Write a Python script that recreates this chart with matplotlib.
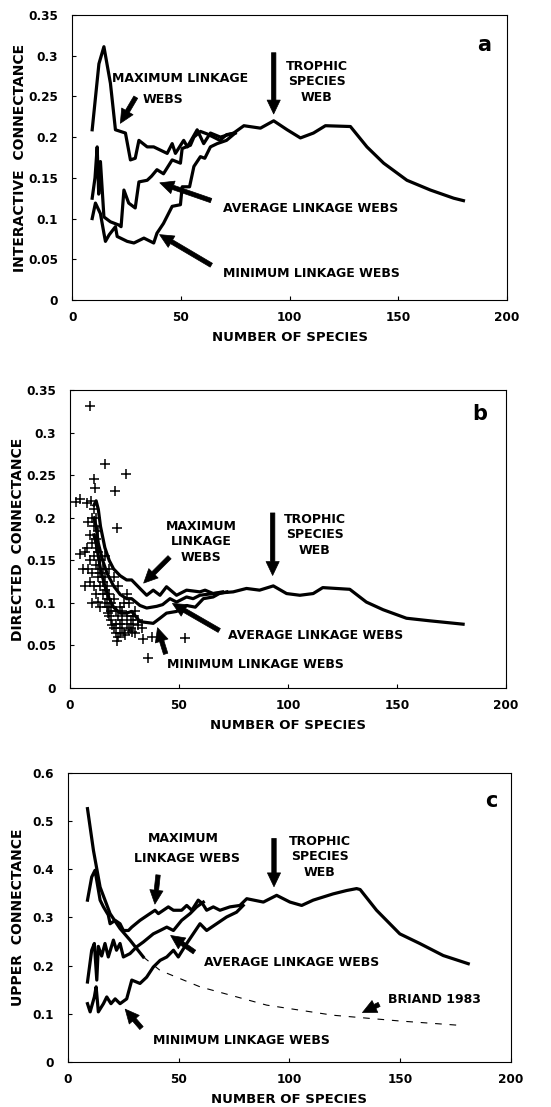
import matplotlib
matplotlib.use('Agg')
import matplotlib.pyplot as plt
from matplotlib.ticker import FuncFormatter

plt.rcParams['font.family'] = ['DejaVu Sans']
plt.rcParams['font.weight'] = 'bold'

# ---- panel a: interactive connectance ----
a_max_x = [9.2, 12.3, 14.6, 17.6, 19.9, 24.5, 26.8, 29, 30.7, 34.5, 37.5, 43.7, 46, 47.5, 51.3, 53,
           57.5, 60.5, 63.6, 68.2, 74.3, 79, 86.6, 92.7, 98.9, 105, 111, 116.5, 128, 135.6, 143.3,
           154, 164.8, 175.5, 180]
a_max_y = [0.209, 0.29, 0.311, 0.266, 0.209, 0.205, 0.172, 0.174, 0.196, 0.188, 0.188, 0.18, 0.192,
           0.18, 0.196, 0.188, 0.209, 0.192, 0.205, 0.2, 0.205, 0.214, 0.211, 0.22, 0.209, 0.199,
           0.205, 0.214, 0.213, 0.188, 0.168, 0.147, 0.135, 0.125, 0.122]
a_avg_x = [9.2, 10.5, 11.5, 12.2, 13, 14.6, 17.6, 21.5, 22.5, 23.8, 26, 29, 30.7, 34.5, 36.5, 39, 42,
           46, 49.8, 50.6, 54.4, 56, 59, 62, 65, 68, 71, 75]
a_avg_y = [0.125, 0.15, 0.188, 0.13, 0.17, 0.102, 0.096, 0.092, 0.09, 0.135, 0.119, 0.113, 0.145,
           0.147, 0.152, 0.16, 0.155, 0.172, 0.168, 0.186, 0.19, 0.2, 0.207, 0.204, 0.2, 0.196, 0.203,
           0.205]
a_min_x = [9.2, 10.7, 13, 14.6, 15.3, 17, 19.9, 20.7, 25.3, 28.4, 33, 37.5, 39, 42, 46, 49.8, 50.6,
           54, 56, 59, 61, 63.6, 66.7, 71, 75]
a_min_y = [0.1, 0.119, 0.106, 0.082, 0.072, 0.08, 0.09, 0.078, 0.072, 0.07, 0.076, 0.07, 0.082,
           0.094, 0.115, 0.117, 0.139, 0.139, 0.164, 0.176, 0.174, 0.188, 0.192, 0.196, 0.205]

# ---- panel b: directed connectance ----
b_max_x = [11, 12, 13, 14, 16, 18, 20, 23, 26, 28.3, 32.1, 35.2, 38.2, 41.3, 44.3, 48.9, 53.5,
           59.6, 62, 65.7, 74.9, 81, 87, 93.3, 99.4, 105.5, 111.6, 116, 128.4, 136, 143.7, 154.4,
           165, 180.4]
b_max_y = [0.215, 0.22, 0.21, 0.19, 0.165, 0.15, 0.14, 0.132, 0.127, 0.127, 0.117, 0.109, 0.115,
           0.109, 0.119, 0.109, 0.115, 0.113, 0.115, 0.111, 0.113, 0.117, 0.115, 0.12, 0.111, 0.109,
           0.111, 0.118, 0.116, 0.101, 0.092, 0.082, 0.079, 0.075]
b_avg_x = [11, 12, 13, 15, 17, 20, 23, 26, 28.3, 32.1, 35.2, 39.8, 42.5, 45.9, 48.9, 53.5, 56.5,
           59.6, 65.7, 70]
b_avg_y = [0.2, 0.19, 0.17, 0.15, 0.135, 0.12, 0.11, 0.105, 0.105, 0.097, 0.094, 0.096, 0.098,
           0.105, 0.101, 0.107, 0.105, 0.109, 0.111, 0.113]
b_min_x = [11, 12, 14, 16, 18, 20, 23, 26, 28.3, 32.1, 38.2, 41.3, 44.3, 48.9, 53.5, 57.5, 61.2,
           65.7, 68.5, 72]
b_min_y = [0.18, 0.17, 0.14, 0.12, 0.105, 0.095, 0.088, 0.088, 0.09, 0.078, 0.076, 0.082, 0.088,
           0.09, 0.097, 0.095, 0.105, 0.107, 0.111, 0.113]
webs_x = [9.2, 16.1, 11.2, 25.7, 11.5, 20.6, 4.6, 9.6, 21.4, 6.9, 8.4, 13, 17.6, 19.1, 21.4, 33.6,
          37.5, 52.8, 35.9, 28.3, 25.2, 31.3, 2.8, 8.4, 8.0, 4.6, 6.1,
          10, 11, 10, 12, 11, 13, 9, 12, 14, 10, 13, 15, 11, 14, 16, 12, 15, 17, 16, 18, 14, 17, 19,
          20, 18, 21, 19, 22, 20, 23, 21, 24, 22, 25, 26, 27, 24, 28, 23, 25, 29, 26, 30, 22, 20,
          18, 16, 13, 12, 11, 9, 8, 10, 7, 9, 27, 31, 33, 30,
          12, 13, 14, 15, 16, 17, 18, 19, 21, 23, 24, 26, 28, 29]
webs_y = [0.331, 0.263, 0.246, 0.251, 0.235, 0.231, 0.222, 0.22, 0.188, 0.16, 0.14, 0.101, 0.088,
          0.074, 0.055, 0.058, 0.06, 0.059, 0.035, 0.066, 0.062, 0.074, 0.219, 0.195, 0.218, 0.158,
          0.14,
          0.2, 0.19, 0.17, 0.175, 0.155, 0.16, 0.15, 0.145, 0.15, 0.135, 0.13, 0.14, 0.12, 0.12, 0.13,
          0.11, 0.11, 0.12, 0.1, 0.11, 0.095, 0.095, 0.1, 0.105, 0.085, 0.09, 0.08, 0.085, 0.07,
          0.075, 0.065, 0.07, 0.06, 0.065, 0.075, 0.068, 0.08, 0.08, 0.095, 0.1, 0.085, 0.11, 0.09,
          0.12, 0.13, 0.14, 0.155, 0.185, 0.2, 0.21, 0.18, 0.165, 0.1, 0.12, 0.125, 0.1, 0.08, 0.07,
          0.065,
          0.165, 0.14, 0.135, 0.125, 0.115, 0.105, 0.095, 0.09, 0.075, 0.065, 0.09, 0.085, 0.07,
          0.075]

# ---- panel c: upper connectance ----
c_max_x = [8.9, 10.8, 12.3, 14.6, 16.1, 18.3, 19.1, 21.4, 23.6, 25.1, 27.4, 28.9, 32.6, 37.1, 39.4,
           40.9, 45.4, 47.7, 51.4, 53.7, 56, 58.9, 60.8, 62.7, 65.7, 68.7, 73.2, 77.7, 80.8, 88.3,
           94.3, 100.3, 105.6, 110.8, 119.8, 125.9, 130.4, 132, 139.4, 149.9, 158.9, 169.5, 180.8]
c_max_y = [0.336, 0.384, 0.398, 0.336, 0.322, 0.305, 0.287, 0.294, 0.287, 0.273, 0.273, 0.28, 0.294,
           0.308, 0.315, 0.308, 0.322, 0.315, 0.315, 0.325, 0.315, 0.336, 0.329, 0.315, 0.322,
           0.315, 0.322, 0.325, 0.339, 0.332, 0.346, 0.332, 0.325, 0.336, 0.349, 0.356, 0.36, 0.358,
           0.315, 0.266, 0.246, 0.221, 0.204]
c_avg_x = [8.9, 10.8, 12, 13.1, 13.8, 15.3, 16.8, 18.3, 20.6, 22, 23.6, 25.1, 28.1, 31.1, 34.1,
           38.6, 41.7, 44.7, 47.7, 51.4, 55.2, 58.2, 61.2]
c_avg_y = [0.166, 0.232, 0.246, 0.17, 0.24, 0.22, 0.246, 0.218, 0.253, 0.232, 0.246, 0.218, 0.225,
           0.239, 0.249, 0.266, 0.273, 0.28, 0.273, 0.294, 0.308, 0.322, 0.332]
c_min_x = [8.9, 10.1, 12, 12.8, 13.8, 16.1, 17.6, 19.5, 21.4, 23.6, 26.6, 28.9, 32.6, 35.6, 38.6,
           41.7, 44.7, 47.7, 49.9, 53.7, 59.7, 62.7, 67.2, 71.7, 76.2, 79.2]
c_min_y = [0.121, 0.104, 0.135, 0.156, 0.104, 0.121, 0.135, 0.121, 0.131, 0.121, 0.131, 0.17,
           0.163, 0.176, 0.197, 0.211, 0.218, 0.232, 0.218, 0.246, 0.287, 0.273, 0.287, 0.301,
           0.311, 0.325]
briand_x = [8.9, 11.6, 14.6, 19.1, 23.6, 28.1, 34.1, 41.7, 59.7, 89.8, 119.8, 150, 177]
briand_y = [0.526, 0.439, 0.363, 0.308, 0.277, 0.253, 0.218, 0.19, 0.156, 0.118, 0.097, 0.085,
            0.076]

LW = 2.3
TXT = 9


def trim(v, pos):
    s = ('%.2f' % v).rstrip('0').rstrip('.')
    return s


def setup(ax, ylim, yticks, ylabel, ylab_x):
    ax.set_xlim(0, 200)
    ax.set_ylim(*ylim)
    ax.set_xticks([0, 50, 100, 150, 200])
    ax.set_yticks(yticks)
    ax.yaxis.set_major_formatter(FuncFormatter(trim))
    ax.tick_params(direction='in', length=3, width=0.8, labelsize=8.7)
    ax.tick_params(axis='y', pad=10)
    ax.tick_params(axis='x', pad=8)
    for lab in ax.get_xticklabels() + ax.get_yticklabels():
        lab.set_fontweight('bold')
    for sp in ax.spines.values():
        sp.set_linewidth(0.8)
    ax.set_xlabel('NUMBER OF SPECIES', fontsize=9.5, fontweight='bold', labelpad=5)
    ax.set_ylabel(ylabel, fontsize=10, fontweight='bold')
    ax.yaxis.set_label_coords(ylab_x, 0.5)


def arrow(ax, start, end):
    ax.annotate('', xy=end, xytext=start,
                arrowprops=dict(arrowstyle='simple,head_width=0.95,head_length=1.0,tail_width=0.32',
                                mutation_scale=10, fc='k', ec='k', lw=0.5))


def label(ax, x, y, s, ha='center'):
    ax.text(x, y, s, fontsize=TXT, fontweight='bold', ha=ha, va='center', linespacing=1.25)


fig = plt.figure(figsize=(5.51, 11.07), dpi=100)
ax1 = fig.add_axes([0.131, 0.729, 0.789, 0.2575])
ax2 = fig.add_axes([0.127, 0.3785, 0.791, 0.269])
ax3 = fig.add_axes([0.123, 0.0407, 0.804, 0.261])

# panel a
for xs, ys in [(a_max_x, a_max_y), (a_avg_x, a_avg_y), (a_min_x, a_min_y)]:
    ax1.plot(xs, ys, 'k-', lw=LW)
setup(ax1, (0, 0.35), [0, 0.05, 0.1, 0.15, 0.2, 0.25, 0.3, 0.35], 'INTERACTIVE  CONNECTANCE', -0.103)
ax1.text(189.3, 0.313, 'a', fontsize=15, fontweight='bold', ha='center', va='center')
label(ax1, 18.4, 0.272, 'MAXIMUM LINKAGE', ha='left')
label(ax1, 42, 0.246, 'WEBS')
arrow(ax1, (29.9, 0.252), (21.5, 0.214))
label(ax1, 112.6, 0.268, 'TROPHIC\nSPECIES\nWEB')
arrow(ax1, (92.7, 0.307), (92.7, 0.225))
label(ax1, 69.4, 0.1126, 'AVERAGE LINKAGE WEBS', ha='left')
arrow(ax1, (65.1, 0.121), (39.1, 0.145))
label(ax1, 69.4, 0.0327, 'MINIMUM LINKAGE WEBS', ha='left')
arrow(ax1, (65.1, 0.041), (39.1, 0.082))

# panel b
ax2.plot(webs_x, webs_y, 'k+', ms=7, mew=1.1)
for xs, ys in [(b_max_x, b_max_y), (b_avg_x, b_avg_y), (b_min_x, b_min_y)]:
    ax2.plot(xs, ys, 'k-', lw=LW)
setup(ax2, (0, 0.35), [0, 0.05, 0.1, 0.15, 0.2, 0.25, 0.3, 0.35], 'DIRECTED  CONNECTANCE', -0.103)
ax2.text(188, 0.322, 'b', fontsize=15, fontweight='bold', ha='center', va='center')
label(ax2, 60.1, 0.172, 'MAXIMUM\nLINKAGE\nWEBS')
arrow(ax2, (46.6, 0.156), (32.9, 0.121))
label(ax2, 112.4, 0.18, 'TROPHIC\nSPECIES\nWEB')
arrow(ax2, (93, 0.209), (93, 0.129))
label(ax2, 72.6, 0.062, 'AVERAGE LINKAGE WEBS', ha='left')
arrow(ax2, (69.6, 0.066), (45.9, 0.101))
label(ax2, 44.3, 0.028, 'MINIMUM LINKAGE WEBS', ha='left')
arrow(ax2, (44.3, 0.037), (39.8, 0.074))

# panel c
for xs, ys in [(c_max_x, c_max_y), (c_avg_x, c_avg_y), (c_min_x, c_min_y)]:
    ax3.plot(xs, ys, 'k-', lw=LW)
ax3.plot(briand_x[:7], briand_y[:7], 'k-', lw=LW)
ax3.plot(briand_x[6:], briand_y[6:], 'k--', lw=0.8, dashes=(6, 7))
setup(ax3, (0, 0.6), [0, 0.1, 0.2, 0.3, 0.4, 0.5, 0.6], 'UPPER  CONNECTANCE', -0.097)
ax3.text(191.3, 0.542, 'c', fontsize=15, fontweight='bold', ha='center', va='center')
label(ax3, 52.2, 0.463, 'MAXIMUM')
label(ax3, 53.7, 0.422, 'LINKAGE WEBS')
arrow(ax3, (40.9, 0.394), (39.2, 0.322))
label(ax3, 113.8, 0.426, 'TROPHIC\nSPECIES\nWEB')
arrow(ax3, (93.1, 0.47), (93.1, 0.358))
label(ax3, 61.5, 0.206, 'AVERAGE LINKAGE WEBS', ha='left')
arrow(ax3, (58.2, 0.225), (45.4, 0.266))
label(ax3, 38.3, 0.045, 'MINIMUM LINKAGE WEBS', ha='left')
arrow(ax3, (34.1, 0.066), (25.1, 0.114))
label(ax3, 144.7, 0.129, 'BRIAND 1983', ha='left')
arrow(ax3, (141.7, 0.122), (131.9, 0.1))

fig.savefig('out.png', dpi=100)
